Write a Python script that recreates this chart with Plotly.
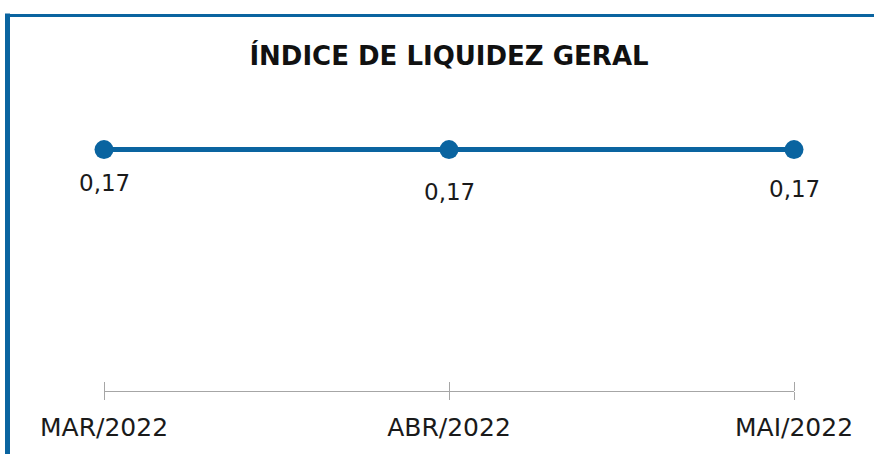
import plotly.graph_objects as go

categories = ["MAR/2022", "ABR/2022", "MAI/2022"]
values = [0.17, 0.17, 0.17]
title_text = "ÍNDICE DE LIQUIDEZ GERAL"

# style: vertical offset (px) of each value label below its point
label_offsets = [33, 42, 39]

W, H = 874, 454
L, R, T, B = 104, 80, 107, 60
pw, ph = W - L - R, H - T - B

def px_x(x):
    return (x - L) / pw

def px_y(y):
    return (H - B - y) / ph

blue = "#0a64a0"
gray = "#a6a6a6"
font_family = "DejaVu Sans"

fig = go.Figure()
fig.add_trace(go.Scatter(
    x=categories, y=values, mode="lines+markers",
    line=dict(color=blue, width=5),
    marker=dict(color=blue, size=19),
    cliponaxis=False, hoverinfo="skip", xaxis="x", yaxis="y",
))
fig.add_trace(go.Scatter(x=categories, y=[None] * 3, xaxis="x2", yaxis="y",
                         showlegend=False, hoverinfo="skip"))

annotations = [
    dict(x=c, y=v, xref="x", yref="y", text=f"{v:.2f}".replace(".", ","),
         showarrow=False, yshift=-off, xanchor="center", yanchor="middle",
         font=dict(family=font_family, size=23, color="#1a1a1a"))
    for c, v, off in zip(categories, values, label_offsets)
]

fig.update_layout(
    width=W, height=H, autosize=False,
    margin=dict(l=L, r=R, t=T, b=B),
    paper_bgcolor="white", plot_bgcolor="white",
    separators=",.",
    showlegend=False,
    title=dict(text="<b>" + title_text + "</b>", x=0.5, xref="paper", xanchor="center",
               y=1 - 56 / H, yanchor="middle",
               font=dict(family=font_family, size=26, color="#111")),
    xaxis=dict(type="category", range=[0, 2], showgrid=False, zeroline=False,
               showline=True, linecolor=gray, linewidth=1,
               ticks="outside", ticklen=8, tickcolor=gray, tickwidth=1,
               ticklabelstandoff=6,
               tickfont=dict(family=font_family, size=25, color="#1a1a1a"),
               fixedrange=True),
    xaxis2=dict(type="category", range=[0, 2], overlaying="x", anchor="free", position=0,
                side="top", showgrid=False, zeroline=False, showline=False,
                showticklabels=False, ticks="outside", ticklen=9, tickcolor=gray, tickwidth=1),
    yaxis=dict(range=[0, 0.2], visible=False, fixedrange=True),
    annotations=annotations,
    shapes=[
        dict(type="line", xref="paper", yref="paper",
             x0=px_x(7.5), x1=px_x(7.5), y0=px_y(H + 5), y1=px_y(12.5),
             line=dict(color=blue, width=5)),
        dict(type="line", xref="paper", yref="paper",
             x0=px_x(5), x1=px_x(W + 5), y0=px_y(14.5), y1=px_y(14.5),
             line=dict(color=blue, width=3)),
    ],
)

fig.write_html("out.html", config={"displayModeBar": False, "staticPlot": True},
               post_script="document.body.style.margin='0';")
